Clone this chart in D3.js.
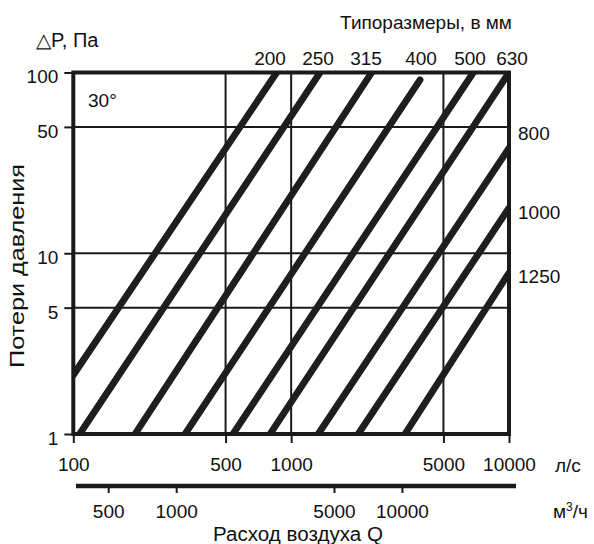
<!DOCTYPE html>
<html>
  <head>
    <meta charset="utf-8">
    <script src="https://d3js.org/d3.v7.min.js"></script>
    <style>
      body { margin: 0; background: #fff; }
      text { font-family: "Liberation Sans", Arial, sans-serif; fill: #111; }
    </style>
  </head>
  <body>
    <div id="container"></div>

    <script type="text/javascript">
      // Duct sizes (mm) and the end points of each pressure-loss line
      var sizes  = ["200", "250", "315", "400", "500", "630", "800", "1000", "1250"];
      var qStart = [100, 107, 192, 326, 541, 800, 1332, 2033, 3331];     // l/s
      var pStart = [2.12, 1, 1, 1, 1, 1, 1, 1, 1];                       // Pa
      var qEnd   = [858, 1357, 2343, 3904, 6857, 10000, 10000, 10000, 10000];
      var pEnd   = [100, 100, 100, 91, 100, 100, 38.2, 17.8, 7.8];

      // Axis ticks and grid
      var flowTicks  = [100, 500, 1000, 5000, 10000];   // l/s
      var flowGrid   = [500, 1000, 5000];
      var presTicks  = [1, 5, 10, 50, 100];
      var presGrid   = [5, 10, 50];
      var m3hTicks   = [500, 1000, 5000, 10000];        // m3/h

      var width = 594, height = 544;
      var pLeft = 73.3, pRight = 509, pTop = 72.5, pBottom = 434;

      var svg = d3.select("#container").append("svg")
        .attr("width", width)
        .attr("height", height);

      var x = d3.scaleLog().domain([100, 10000]).range([pLeft, pRight]);
      var y = d3.scaleLog().domain([1, 100]).range([pBottom, pTop]);
      // the m3/h scale as drawn in the original (not exactly 3.6 * l/s)
      var x2 = d3.scaleLog().domain([360, 32000]).range([76, 516]);

      var ink = "#1a1a1a";

      // grid
      svg.append("g").selectAll("line").data(flowGrid).enter().append("line")
        .attr("x1", function(d) { return x(d); })
        .attr("x2", function(d) { return x(d); })
        .attr("y1", pTop).attr("y2", pBottom)
        .style("stroke", ink).style("stroke-width", 2);
      svg.append("g").selectAll("line").data(presGrid).enter().append("line")
        .attr("y1", function(d) { return y(d); })
        .attr("y2", function(d) { return y(d); })
        .attr("x1", pLeft).attr("x2", pRight)
        .style("stroke", ink).style("stroke-width", 2);

      // clip for the loss lines
      svg.append("clipPath").attr("id", "plot")
        .append("rect")
        .attr("x", pLeft).attr("y", pTop)
        .attr("width", pRight - pLeft).attr("height", pBottom - pTop);

      var lines = sizes.map(function(s, i) {
        return { size: s, q0: qStart[i], p0: pStart[i], q1: qEnd[i], p1: pEnd[i] };
      });

      svg.append("g").attr("clip-path", "url(#plot)")
        .selectAll("line").data(lines).enter().append("line")
        .attr("x1", function(d) { return x(d.q0); })
        .attr("y1", function(d) { return y(d.p0); })
        .attr("x2", function(d) { return x(d.q1); })
        .attr("y2", function(d) { return y(d.p1); })
        .style("stroke", "#1e1e1e")
        .style("stroke-width", 6.8)
        .style("stroke-linecap", "round");

      // axes
      var yAxis = d3.axisLeft(y).tickValues(presTicks)
        .tickFormat(d3.format("d")).tickSize(9).tickPadding(6);
      var gy = svg.append("g").attr("transform", "translate(" + pLeft + ",0)").call(yAxis);

      var xAxis = d3.axisBottom(x).tickValues(flowTicks)
        .tickFormat(d3.format("d")).tickSize(9).tickPadding(15);
      var gx = svg.append("g").attr("transform", "translate(0," + pBottom + ")").call(xAxis);

      var x2Axis = d3.axisBottom(x2).tickValues(m3hTicks)
        .tickFormat(d3.format("d")).tickSize(7).tickPadding(12).tickSizeOuter(0);
      var gx2 = svg.append("g").attr("transform", "translate(0,486)").call(x2Axis);

      [gy, gx, gx2].forEach(function(g) {
        g.selectAll("text").style("font-size", "19px").style("fill", "#111")
          .attr("font-family", null);
        g.selectAll(".tick line").style("stroke", ink).style("stroke-width", 2);
      });
      gy.select(".domain").remove();
      gx.select(".domain").remove();
      gy.selectAll("text").attr("dy", "0.55em");
      gx2.select(".domain").attr("d", "M76,0H516")
        .style("stroke", ink).style("stroke-width", 4.5);

      // frame
      svg.append("rect")
        .attr("x", pLeft).attr("y", pTop)
        .attr("width", pRight - pLeft).attr("height", pBottom - pTop)
        .style("fill", "none").style("stroke", ink).style("stroke-width", 4);

      // size labels
      var labelFor = {
        "200": [270, 65, "middle"], "250": [318, 65, "middle"],
        "315": [366, 65, "middle"], "400": [421, 65, "middle"],
        "500": [470, 65, "middle"], "630": [512, 65, "middle"],
        "800": [518, 140, "start"], "1000": [518, 219, "start"],
        "1250": [518, 283, "start"]
      };
      svg.append("g").selectAll("text").data(sizes).enter().append("text")
        .attr("x", function(d) { return labelFor[d][0]; })
        .attr("y", function(d) { return labelFor[d][1]; })
        .attr("text-anchor", function(d) { return labelFor[d][2]; })
        .style("font-size", "19px")
        .text(function(d) { return d; });

      function label(t, px, py, anchor) {
        return svg.append("text").attr("x", px).attr("y", py)
          .attr("text-anchor", anchor || "start")
          .style("font-size", "19px").text(t);
      }

      label("Типоразмеры, в мм", 426, 29, "middle");
      label("\u25B3P, Па", 36, 47).style("font-size", "20px");
      label("30°", 88, 107);
      label("л/с", 555, 472);
      var mu = label("м", 553, 518);
      mu.append("tspan").attr("dy", -7).style("font-size", "12px").text("3");
      mu.append("tspan").attr("dy", 7).text("/ч");
      label("Расход воздуха Q", 298, 541, "middle")
        .style("font-size", "20px")
        .attr("textLength", 170).attr("lengthAdjust", "spacingAndGlyphs");
      svg.append("text")
        .attr("transform", "translate(24,266) rotate(-90)")
        .attr("text-anchor", "middle")
        .style("font-size", "20px")
        .attr("textLength", 204).attr("lengthAdjust", "spacingAndGlyphs")
        .text("Потери давления");
    </script>
  </body>
</html>
